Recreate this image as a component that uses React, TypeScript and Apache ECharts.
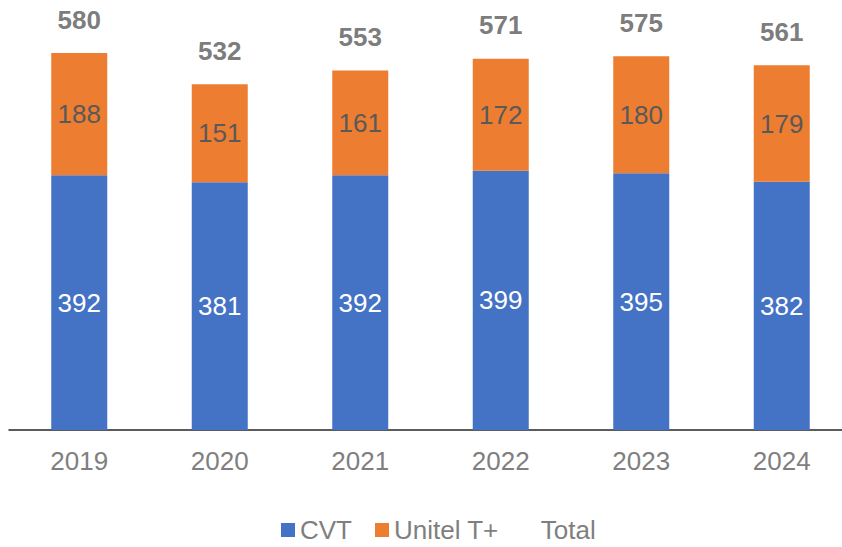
import React, { useEffect, useRef } from "react";
import * as echarts from "echarts";

const years = ["2019", "2020", "2021", "2022", "2023", "2024"];
const cvt = [392, 381, 392, 399, 395, 382];
const unitel = [188, 151, 161, 172, 180, 179];
const total = [580, 532, 553, 571, 575, 561];

const FONT = "'Liberation Sans', Arial, sans-serif";

export default function App() {
  const ref = useRef<HTMLDivElement>(null);
  useEffect(() => {
    if (!ref.current) return;
    const chart = echarts.init(ref.current, undefined, { renderer: "svg" });
    chart.setOption({
      animation: false,
      textStyle: { fontFamily: FONT },
      grid: { left: 9, width: 843, top: 40, bottom: 117, containLabel: false },
      legend: {
        left: 276,
        top: 512,
        itemWidth: 14,
        itemHeight: 14,
        itemGap: 23,
        textStyle: { fontSize: 26, color: "#7F7F7F", fontFamily: FONT },
        data: [
          { name: "CVT", icon: "rect" },
          { name: "Unitel T+", icon: "rect" },
          { name: "Total", icon: "rect", itemStyle: { color: "rgba(0,0,0,0)" } },
        ],
      },
      xAxis: {
        type: "category",
        data: years,
        axisTick: { show: false },
        axisLine: { lineStyle: { color: "#262626", width: 1.5 } },
        axisLabel: { fontSize: 26, color: "#7F7F7F", margin: 18, fontFamily: FONT },
      },
      yAxis: {
        type: "value",
        min: 0,
        max: 600,
        show: false,
        splitLine: { show: false },
      },
      series: [
        {
          name: "CVT",
          type: "bar",
          stack: "s",
          barWidth: 56,
          data: cvt,
          itemStyle: { color: "#4472C4" },
          label: { show: true, position: "inside", fontSize: 26, color: "#FFFFFF", fontFamily: FONT },
        },
        {
          name: "Unitel T+",
          type: "bar",
          stack: "s",
          barWidth: 56,
          data: unitel,
          itemStyle: { color: "#ED7D31" },
          label: { show: true, position: "inside", fontSize: 26, color: "#595959", fontFamily: FONT },
        },
        {
          name: "Total",
          type: "scatter",
          data: total,
          symbolSize: 1,
          itemStyle: { color: "rgba(0,0,0,0)" },
          label: {
            show: true,
            position: "top",
            distance: 20,
            fontSize: 26,
            fontWeight: "bold",
            color: "#595959",
            fontFamily: FONT,
          },
        },
      ],
    });
    return () => chart.dispose();
  }, []);
  return (
    <div
      style={{ position: "fixed", left: 0, top: 0, width: 842, height: 547, overflow: "hidden", background: "#fff" }}
    >
      <div ref={ref} style={{ width: 860, height: 547 }} />
    </div>
  );
}
